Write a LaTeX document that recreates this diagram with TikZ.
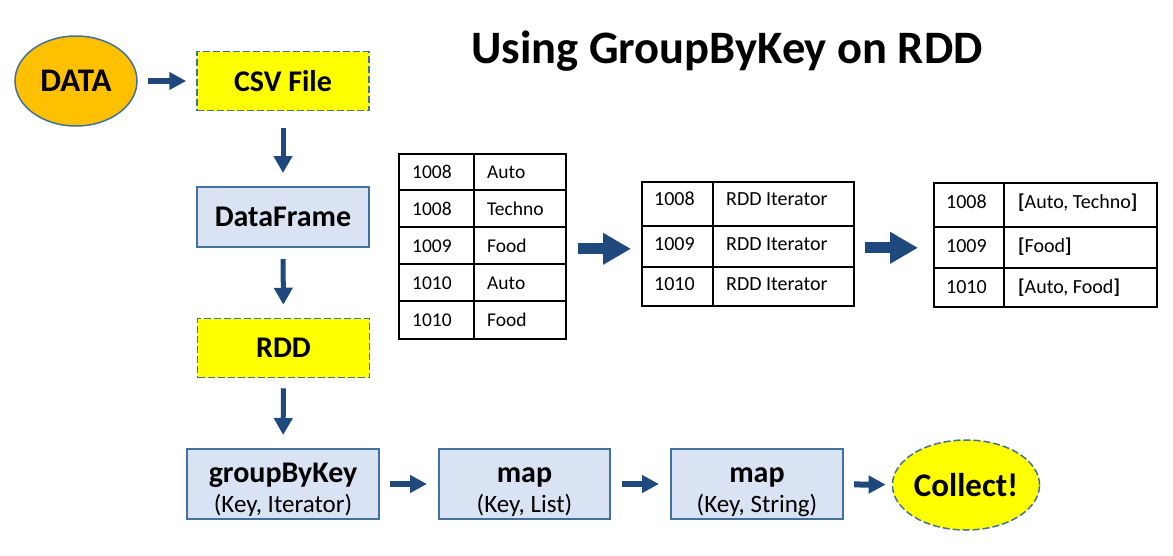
\documentclass[tikz,border=0pt]{standalone}
\usepackage{fontspec}
\setmainfont{Carlito}
\usetikzlibrary{arrows.meta,shapes.geometric,calc}
\definecolor{arrowc}{HTML}{1F497D}
\definecolor{boxborder}{HTML}{41719C}
\definecolor{boxfill}{HTML}{DAE3F3}
\definecolor{orangefill}{HTML}{FFC000}
\definecolor{yel}{HTML}{FFFF00}
\tikzset{
  basebox/.style={rectangle, inner sep=0pt, draw=boxborder, align=center},
  yelbox/.style={basebox, fill=yel, line width=1.5pt, dash pattern=on 7pt off 3pt,
     minimum width=172pt, minimum height=59pt, font=\fontsize{30}{32}\selectfont\bfseries},
  bluebox/.style={basebox, fill=boxfill, line width=2pt,
     minimum width=172pt, minimum height=60pt, font=\fontsize{30}{32}\selectfont\bfseries},
  opbox/.style={basebox, fill=boxfill, line width=2pt, minimum height=70pt},
  oval/.style={ellipse, inner sep=0pt, line width=1.5pt, draw=boxborder,
     font=\fontsize{33}{35}\selectfont\bfseries},
  arr/.style={draw=arrowc, line width=6pt, -{Triangle[length=17pt,width=17pt]}},
  varr/.style={draw=arrowc, line width=5pt, -{Triangle[length=17pt,width=18pt]}},
  bigarr/.style={draw=arrowc, line width=11pt, -{Triangle[length=28pt,width=30pt]}},
  tab/.style={rectangle, draw=black, line width=1.6pt, inner sep=0pt, anchor=north west},
  tline/.style={draw=black, line width=1.6pt},
  cell/.style={anchor=base west, inner sep=0pt, font=\fontsize{20}{22}\selectfont},
  cella/.style={cell, font=\fontsize{19.5}{22}\selectfont},
}
\newcommand{\optext}[2]{{\fontsize{30}{30}\selectfont\bfseries\rule{0pt}{31pt}#1}\\[6pt]{\fontsize{25}{25}\selectfont #2}}
\begin{document}
\begin{tikzpicture}[x=1pt,y=-1pt]
\useasboundingbox (0,0) rectangle (1173,555);
\fill[white] (0,0) rectangle (1173,555);

% title
\node[font=\fontsize{46.5}{50}\selectfont\bfseries, inner sep=0pt] (title) at (727,51) {Using GroupByKey on RDD};

% flow
\node[oval, fill=orangefill, minimum width=122pt, minimum height=90pt] (data) at (76,81) {DATA};
\node[yelbox] (csv) at (283,81) {CSV File};
\node[bluebox] (df) at (283,217) {DataFrame};
\node[yelbox] (rdd) at (283.5,348) {RDD};
\node[opbox, minimum width=192pt] (gbk) at (283,484) {\optext{groupByKey}{(Key, Iterator)}};
\node[opbox, minimum width=171pt] (map1) at (524.5,484) {\optext{map}{(Key, List)}};
\node[opbox, minimum width=172pt] (map2) at (757,484) {\optext{map}{(Key, String)}};
\node[oval, fill=yel, dash pattern=on 7pt off 3pt, minimum width=137pt, minimum height=90pt] (collect) at (966,485) {Collect!};

\draw[arr, shorten <=10pt, shorten >=10pt] (data) -- (csv);
\draw[varr, shorten <=17pt, shorten >=13pt] (csv) -- (df);
\draw[varr, shorten <=11pt, shorten >=13pt] (df) -- (rdd);
\draw[varr, shorten <=10pt, shorten >=13pt] (rdd) -- (gbk);
\draw[arr, shorten <=10pt, shorten >=11pt] (gbk) -- (map1);
\draw[arr, shorten <=11pt, shorten >=11pt] (map1) -- (map2);
\draw[arr, shorten <=10pt, shorten >=6pt] (map2) -- (collect);

% table 1
\node[tab, minimum width=167pt, minimum height=185pt] (t1) at (398,153) {};
\draw[tline] (474,153) -- (474,338);
\foreach \yy in {190,227,264,301} \draw[tline] (398,\yy) -- (565,\yy);
\foreach \k/\v [count=\i from 0] in {1008/Auto,1008/Techno,1009/Food,1010/Auto,1010/Food}{
  \node[cella] (t1k\i) at (412,{171.5+37*\i+6.5}) {\k};
  \node[cella] (t1v\i) at (487,{171.5+37*\i+6.5}) {\v};
}

% table 2
\node[tab, minimum width=212pt, minimum height=124pt] (t2) at (641,181) {};
\draw[tline] (713,181) -- (713,305);
\draw[tline] (641,226) -- (853,226);
\draw[tline] (641,267) -- (853,267);
\node[cell] (t2k0) at (654,205.5) {1008};
\node[cell] (t2v0) at (726,205.5) {RDD Iterator};
\node[cell] (t2k1) at (654,250.5) {1009};
\node[cell] (t2v1) at (726,250.5) {RDD Iterator};
\node[cell] (t2k2) at (654,290.5) {1010};
\node[cell] (t2v2) at (726,290.5) {RDD Iterator};

% table 3
\node[tab, minimum width=223pt, minimum height=124pt] (t3) at (933,182) {};
\draw[tline] (1004,182) -- (1004,306);
\draw[tline] (933,227) -- (1156,227);
\draw[tline] (933,268) -- (1156,268);
\node[cell] (t3k0) at (946,208.5) {1008};
\node[cell] (t3v0) at (1018,208.5) {\textbf{[}Auto, Techno\textbf{]}};
\node[cell] (t3k1) at (946,252) {1009};
\node[cell] (t3v1) at (1018,252) {\textbf{[}Food\textbf{]}};
\node[cell] (t3k2) at (946,293) {1010};
\node[cell] (t3v2) at (1018,293) {\textbf{[}Auto, Food\textbf{]}};

\draw[bigarr] ([xshift=11pt,yshift=-2.5pt]t1.east) -- ([xshift=-10pt,yshift=-2.5pt]t1.east -| t2.west);
\draw[bigarr] ([xshift=10pt,yshift=-4pt]t2.east) -- ([xshift=-15pt,yshift=-4pt]t2.east -| t3.west);
\end{tikzpicture}
\end{document}
